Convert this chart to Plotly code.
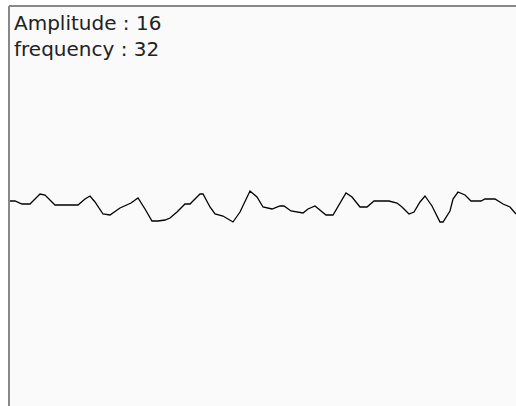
import plotly.graph_objects as go

# waveform samples (sample index, signal value)
sample_pos = [0, 6, 13, 21, 31, 36, 46, 69, 76, 81, 86, 94, 101, 111, 122, 129,
              136, 143, 149, 156, 161, 168, 176, 181, 191, 194, 201, 206, 214, 224,
              231, 236, 241, 248, 254, 263, 271, 275, 282, 294, 299, 306, 317, 324,
              329, 334, 337, 343, 351, 358, 365, 380, 388, 393, 400, 405, 411, 416,
              423, 431, 434, 441, 444, 449, 456, 462, 472, 476, 486, 494, 501, 507]
signal = [4, 4, 1, 1, 11, 10, 0, 0, 6, 9, 3, -9, -10, -3, 2, 7,
          -4, -16, -16, -15, -13, -7, 1, 1, 11, 11, -2, -9, -11, -17,
          -7, 4, 14, 8, -2, -4, -1, -1, -6, -8, -4, -1, -10, -10,
          -1, 8, 12, 8, -2, -2, 4, 4, 2, -2, -9, -7, 3, 9,
          -1, -17, -17, -6, 6, 13, 10, 4, 4, 6, 6, 1, -2, -9]

amplitude = 16
frequency = 32

fig = go.Figure(go.Scatter(x=sample_pos, y=signal, mode="lines",
                           line=dict(color="black", width=1.3), hoverinfo="skip"))

fig.add_annotation(text=f"Amplitude : {amplitude}", xref="paper", yref="paper",
                   x=0, y=1, xanchor="left", yanchor="top", xshift=3, yshift=-3,
                   showarrow=False, font=dict(family="DejaVu Sans", size=20, color="#222"))
fig.add_annotation(text=f"frequency : {frequency}", xref="paper", yref="paper",
                   x=0, y=1, xanchor="left", yanchor="top", xshift=3, yshift=-29,
                   showarrow=False, font=dict(family="DejaVu Sans", size=20, color="#222"))

# left and top frame edges
fig.add_shape(type="line", xref="paper", yref="paper", x0=0, x1=0, y0=-0.05, y1=1,
              line=dict(color="#888", width=2))
fig.add_shape(type="line", xref="paper", yref="paper", x0=0, x1=1.05, y0=1, y1=1,
              line=dict(color="#888", width=2))

fig.update_layout(
    width=516, height=406,
    margin=dict(l=9, r=0, t=6, b=0),
    paper_bgcolor="white", plot_bgcolor="#fafafa",
    showlegend=False,
    xaxis=dict(range=[0, 507], showgrid=False, zeroline=False,
               showticklabels=False, ticks="", showline=False),
    yaxis=dict(range=[-201, 199], showgrid=False, zeroline=False,
               showticklabels=False, ticks="", showline=False),
)

# drop the default page margin so the figure sits at the window corner
fig.write_html("out.html", config={"displayModeBar": False},
               post_script="document.body.style.margin='0';")
